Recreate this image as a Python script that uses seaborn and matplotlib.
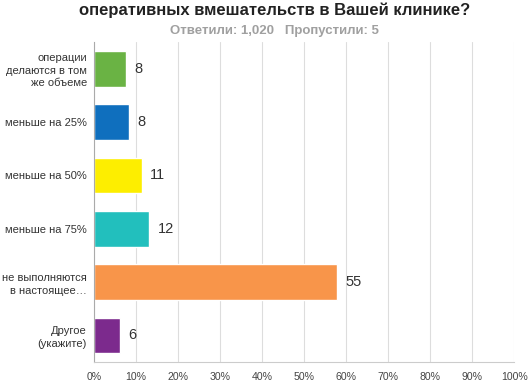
import pandas as pd
import matplotlib.pyplot as plt
import seaborn as sns

# ── data ─────────────────────────────────────────────
categories = [
    "операции\nделаются в том\nже объеме",
    "меньше на 25%",
    "меньше на 50%",
    "меньше на 75%",
    "не выполняются\nв настоящее…",
    "Другое\n(укажите)",
]
percent = [7.7, 8.3, 11.4, 13.2, 57.8, 6.1]
labels = ["8", "8", "11", "12", "55", "6"]
colors = ["#6ab344", "#0f6fbe", "#fdee00", "#22bfbd", "#f8954a", "#7c2a8d"]
ticks = list(range(0, 101, 10))

df = pd.DataFrame({"cat": categories, "pct": percent})

# ── plot ─────────────────────────────────────────────
sns.set_style("white")
plt.rcParams["font.family"] = ["Liberation Sans", "DejaVu Sans"]

fig = plt.figure(figsize=(5.28, 3.82), dpi=100)
ax = fig.add_axes([0.178, 0.052, 0.796, 0.838])

sns.barplot(data=df, y="cat", x="pct", hue="cat", palette=colors,
            orient="h", width=0.67, legend=False, ax=ax, saturation=1)

for i, (v, lab) in enumerate(zip(percent, labels)):
    ax.annotate(lab, (v, i), xytext=(6, 0), textcoords="offset points",
                va="center", ha="left", fontsize=10.5, color="#333333")

ax.set_xlim(0, 100)
ax.set_ylim(5.5, -0.5)
ax.set_xticks(ticks)
ax.set_xticklabels([f"{t}%" for t in ticks], fontsize=7.6, color="#444444")
ax.set_yticks(range(len(categories)))
ax.set_yticklabels(categories, fontsize=8, color="#333333", linespacing=1.3)
ax.tick_params(axis="y", length=0, pad=5)
ax.tick_params(axis="x", length=0, pad=7)
ax.set_xlabel("")
ax.set_ylabel("")
ax.xaxis.grid(True, color="#dddddd", linewidth=0.8)
ax.set_axisbelow(True)
for s in ["top", "right"]:
    ax.spines[s].set_visible(False)
ax.spines["left"].set_color("#aaaaaa")
ax.spines["bottom"].set_color("#cccccc")

fig.text(0.52, 0.972, "оперативных вмешательств в Вашей клинике?",
         ha="center", va="center", fontsize=12, fontweight="bold", color="#222222")
fig.text(0.52, 0.918, "Ответили: 1,020   Пропустили: 5",
         ha="center", va="center", fontsize=9.5, fontweight="bold", color="#a0a0a0")

plt.savefig("out.png", dpi=100)
